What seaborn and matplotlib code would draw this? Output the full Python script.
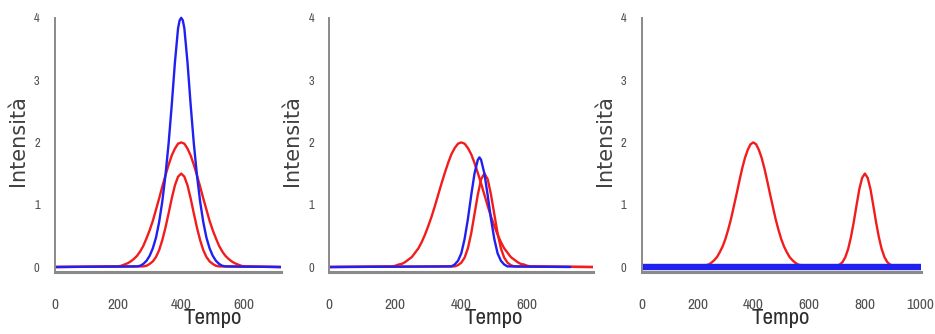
import numpy as np
import pandas as pd
import matplotlib
matplotlib.use("Agg")
import matplotlib.pyplot as plt
import seaborn as sns

XMAX = [715, 800, 1000]
XTICKS = [[0, 200, 400, 600], [0, 200, 400, 600], [0, 200, 400, 600, 800, 1000]]

# panel 1: two red peaks and one blue peak, all centred near 400
p1_red_big_t = np.arange(200, 610, 10)
p1_red_big = [0.01, 0.02, 0.04, 0.06, 0.09, 0.13, 0.18, 0.25, 0.34, 0.46,
              0.59, 0.74, 0.92, 1.10, 1.29, 1.47, 1.64, 1.79, 1.90, 1.98,
              2.00,
              1.98, 1.90, 1.79, 1.64, 1.47, 1.29, 1.10, 0.92, 0.74, 0.59,
              0.46, 0.34, 0.25, 0.18, 0.13, 0.09, 0.06, 0.04, 0.02, 0.01]
p1_red_small_t = np.arange(280, 530, 10)
p1_red_small = [0.01, 0.02, 0.05, 0.09, 0.16, 0.27, 0.43, 0.63, 0.86, 1.10,
                1.31, 1.45, 1.50, 1.45, 1.31, 1.10, 0.86, 0.63, 0.43, 0.27,
                0.16, 0.09, 0.05, 0.02, 0.01]
p1_blue_t = [260, 270, 280, 290, 300, 310, 320, 330, 340, 350, 360, 370, 380,
             390, 395, 400, 405, 410, 420, 430, 440, 450, 460, 470, 480, 490,
             500, 510, 520, 530, 540]
p1_blue = [0.01, 0.02, 0.05, 0.10, 0.18, 0.30, 0.47, 0.72, 1.05, 1.47, 1.98,
           2.60, 3.28, 3.83, 3.96, 4.00, 3.96, 3.83, 3.28, 2.60, 1.98, 1.47,
           1.05, 0.72, 0.47, 0.30, 0.18, 0.10, 0.05, 0.02, 0.01]

# panel 2: red peak at 400, blue at ~455, small red at ~470
p2_red_big_t = np.arange(190, 620, 10)
p2_red_big = [0.01, 0.02, 0.04, 0.05, 0.08, 0.12, 0.16, 0.23, 0.30, 0.40,
              0.52, 0.66, 0.81, 0.98, 1.16, 1.34, 1.51, 1.67, 1.81, 1.91,
              1.98, 2.00, 1.98, 1.91, 1.81, 1.67, 1.51, 1.34, 1.16, 0.98,
              0.81, 0.66, 0.52, 0.40, 0.30, 0.23, 0.16, 0.12, 0.08, 0.05,
              0.04, 0.02, 0.01]
p2_red_small_t = np.arange(380, 570, 10)
p2_red_small = [0.01, 0.03, 0.07, 0.15, 0.30, 0.54, 0.85, 1.16, 1.41, 1.50,
                1.41, 1.16, 0.85, 0.54, 0.30, 0.15, 0.07, 0.03, 0.01]
p2_blue_t = [370, 380, 390, 400, 410, 420, 430, 440, 450, 455, 460, 470, 480,
             490, 500, 510, 520, 530, 540]
p2_blue = [0.01, 0.04, 0.10, 0.22, 0.45, 0.77, 1.15, 1.50, 1.72, 1.76, 1.72,
           1.50, 1.15, 0.77, 0.45, 0.22, 0.10, 0.04, 0.01]
p2_blue_end = 730

# panel 3: red peaks at 400 and 800, blue flat at zero
p3_red_a_t = np.arange(210, 600, 10)
p3_red_a = [0.01, 0.02, 0.03, 0.04, 0.07, 0.11, 0.16, 0.24, 0.33, 0.45,
            0.60, 0.77, 0.97, 1.17, 1.38, 1.58, 1.75, 1.88, 1.97, 2.00,
            1.97, 1.88, 1.75, 1.58, 1.38, 1.17, 0.97, 0.77, 0.60, 0.45,
            0.33, 0.24, 0.16, 0.11, 0.07, 0.04, 0.03, 0.02, 0.01]
p3_red_b_t = np.arange(690, 920, 10)
p3_red_b = [0.01, 0.02, 0.04, 0.08, 0.16, 0.29, 0.48, 0.72, 0.99, 1.25,
            1.43, 1.50, 1.43, 1.25, 0.99, 0.72, 0.48, 0.29, 0.16, 0.08,
            0.04, 0.02, 0.01]

RED = "#f21c1c"
BLUE = "#2020f0"


def with_base(t, v, end):
    # add the zero baseline at both ends of the axis
    t = np.concatenate([[0], t, [end]])
    v = np.concatenate([[0.0], v, [0.0]])
    return pd.DataFrame({"Tempo": t, "Intensita": v})


panel_series = [
    [(with_base(p1_red_big_t, p1_red_big, XMAX[0]), RED, 1.7),
     (with_base(p1_red_small_t, p1_red_small, XMAX[0]), RED, 1.7),
     (with_base(p1_blue_t, p1_blue, XMAX[0]), BLUE, 1.7)],
    [(with_base(p2_red_big_t, p2_red_big, XMAX[1]), RED, 1.7),
     (with_base(p2_red_small_t, p2_red_small, XMAX[1]), RED, 1.7),
     (with_base(p2_blue_t, p2_blue, p2_blue_end), BLUE, 1.7)],
    [(with_base(np.concatenate([p3_red_a_t, p3_red_b_t]),
                np.concatenate([p3_red_a, p3_red_b]), XMAX[2]), RED, 1.7),
     (with_base(np.array([], dtype=int), np.array([]), XMAX[2]), BLUE, 4.6)],
]

sns.set_style("white")
plt.rcParams["font.family"] = ["Archivo Narrow", "DejaVu Sans"]

W, H = 935, 334
fig = plt.figure(figsize=(W / 100, H / 100), dpi=100)

# axes boxes in pixels: left, width
boxes = [(55, 225.6), (329.3, 264), (641.7, 279)]
bottom_px, height_px = 62, 257.3

for i, ((left, width), series) in enumerate(zip(boxes, panel_series)):
    ax = fig.add_axes([left / W, bottom_px / H, width / W, height_px / H])
    for df, col, lw in series:
        sns.lineplot(data=df, x="Tempo", y="Intensita", ax=ax, color=col,
                     linewidth=lw, estimator=None, sort=False)
    ax.set_xlim(0, XMAX[i])
    ax.set_ylim(-0.08, 4.05)
    ax.set_xticks(XTICKS[i])
    ax.set_yticks([0, 1, 2, 3, 4])
    for s in ("top", "right"):
        ax.spines[s].set_visible(False)
    ax.spines["left"].set_bounds(-0.08, 4)
    ax.spines["left"].set_color("#8a8a8a")
    ax.spines["left"].set_linewidth(1.4)
    ax.spines["bottom"].set_color("#8a8a8a")
    ax.spines["bottom"].set_linewidth(2.2)
    ax.tick_params(axis="x", direction="out", length=8, width=1.3,
                   color="#3a3a3a", pad=11, labelsize=11, labelcolor="#505050")
    ax.tick_params(axis="y", direction="out", length=5, width=1.3,
                   color="#3a3a3a", pad=6, labelsize=9, labelcolor="#505050")
    ax.set_xlabel("Tempo", fontsize=16.5, color="#2e2e2e")
    ax.xaxis.set_label_coords(500, -0.14, transform=ax.get_xaxis_transform())
    ax.set_ylabel("Intensità", fontsize=15, color="#404040", family="DejaVu Sans")
    ax.yaxis.set_label_coords(-27 / width, 0.51)

plt.savefig("out.png", dpi=100)
plt.close()
